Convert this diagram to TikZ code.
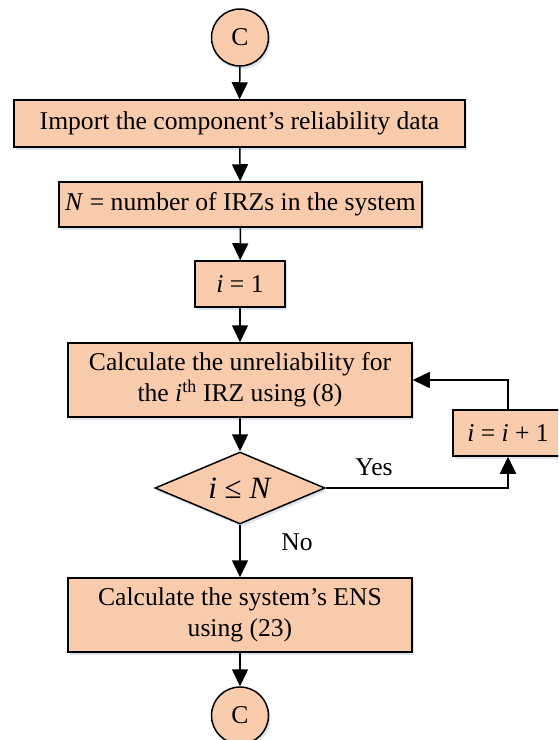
\documentclass[tikz,border=0pt]{standalone}
\usepackage{fontspec}
\setmainfont{Liberation Serif}
\usetikzlibrary{arrows.meta,shapes.geometric,shadows}
\definecolor{peach}{HTML}{F8CBAD}
\definecolor{shadowblue}{HTML}{B8C4D6}
\begin{document}
\begin{tikzpicture}[x=1pt,y=-1pt,
  every node/.style={font=\fontsize{25.6}{31}\selectfont},
  base/.style={draw=black, line width=1.5pt, fill=peach, inner sep=0pt, align=center,
    drop shadow={shadow xshift=2pt, shadow yshift=-3pt, fill=shadowblue, opacity=0.45}},
  boxnode/.style={base, rectangle},
  conn/.style={circle, base, minimum size=57pt},
  decision/.style={base, diamond, aspect=2.36},
  flow/.style={line width=1.5pt, -{Triangle[length=17pt,width=16pt]}},
  lbl/.style={inner sep=0pt}
]
\useasboundingbox (0,0) rectangle (558,740);
\clip (0,0) rectangle (558,740);

\node[conn] (c1) at (240,37.5) {C};
\node[boxnode, minimum width=451pt, minimum height=47pt] (b1) at (239.5,123.5)
  {Import the component’s reliability data};
\node[boxnode, minimum width=363pt, minimum height=45pt] (b2) at (240.5,204.5)
  {\textit{N} = number of IRZs in the system};
\node[boxnode, minimum width=90pt, minimum height=46pt] (b3) at (240,284)
  {\textit{i} = 1};
\node[boxnode, minimum width=344pt, minimum height=74pt] (b4) at (240,380)
  {Calculate the unreliability for\\the \textit{i}\textsuperscript{th} IRZ using (8)};
\node[decision, minimum width=170pt, minimum height=72pt, font=\fontsize{31}{33}\selectfont] (d) at (240,488)
  {\textit{i} ≤ \textit{N}};
\node[boxnode, minimum width=110pt, minimum height=46pt] (b5) at (508,433)
  {\textit{i} = \textit{i} + 1};
\node[boxnode, minimum width=344pt, minimum height=74pt] (b6) at (240,615)
  {Calculate the system’s ENS\\using (23)};
\node[conn] (c2) at (240,715.5) {C};

\node[lbl] (yes) at (374,467) {Yes};
\node[lbl] (no) at (297,542) {No};

\draw[flow] (c1) -- (b1);
\draw[flow] (b1) -- (b2);
\draw[flow] (b2) -- (b3);
\draw[flow] (b3) -- (b4);
\draw[flow] (b4) -- (d);
\draw[flow] (d) -- (b6);
\draw[flow] (b6) -- (c2);
\draw[flow] (d.east) -| (b5.south);
\draw[flow] (b5.north) |- (b4.east);
\end{tikzpicture}
\end{document}
